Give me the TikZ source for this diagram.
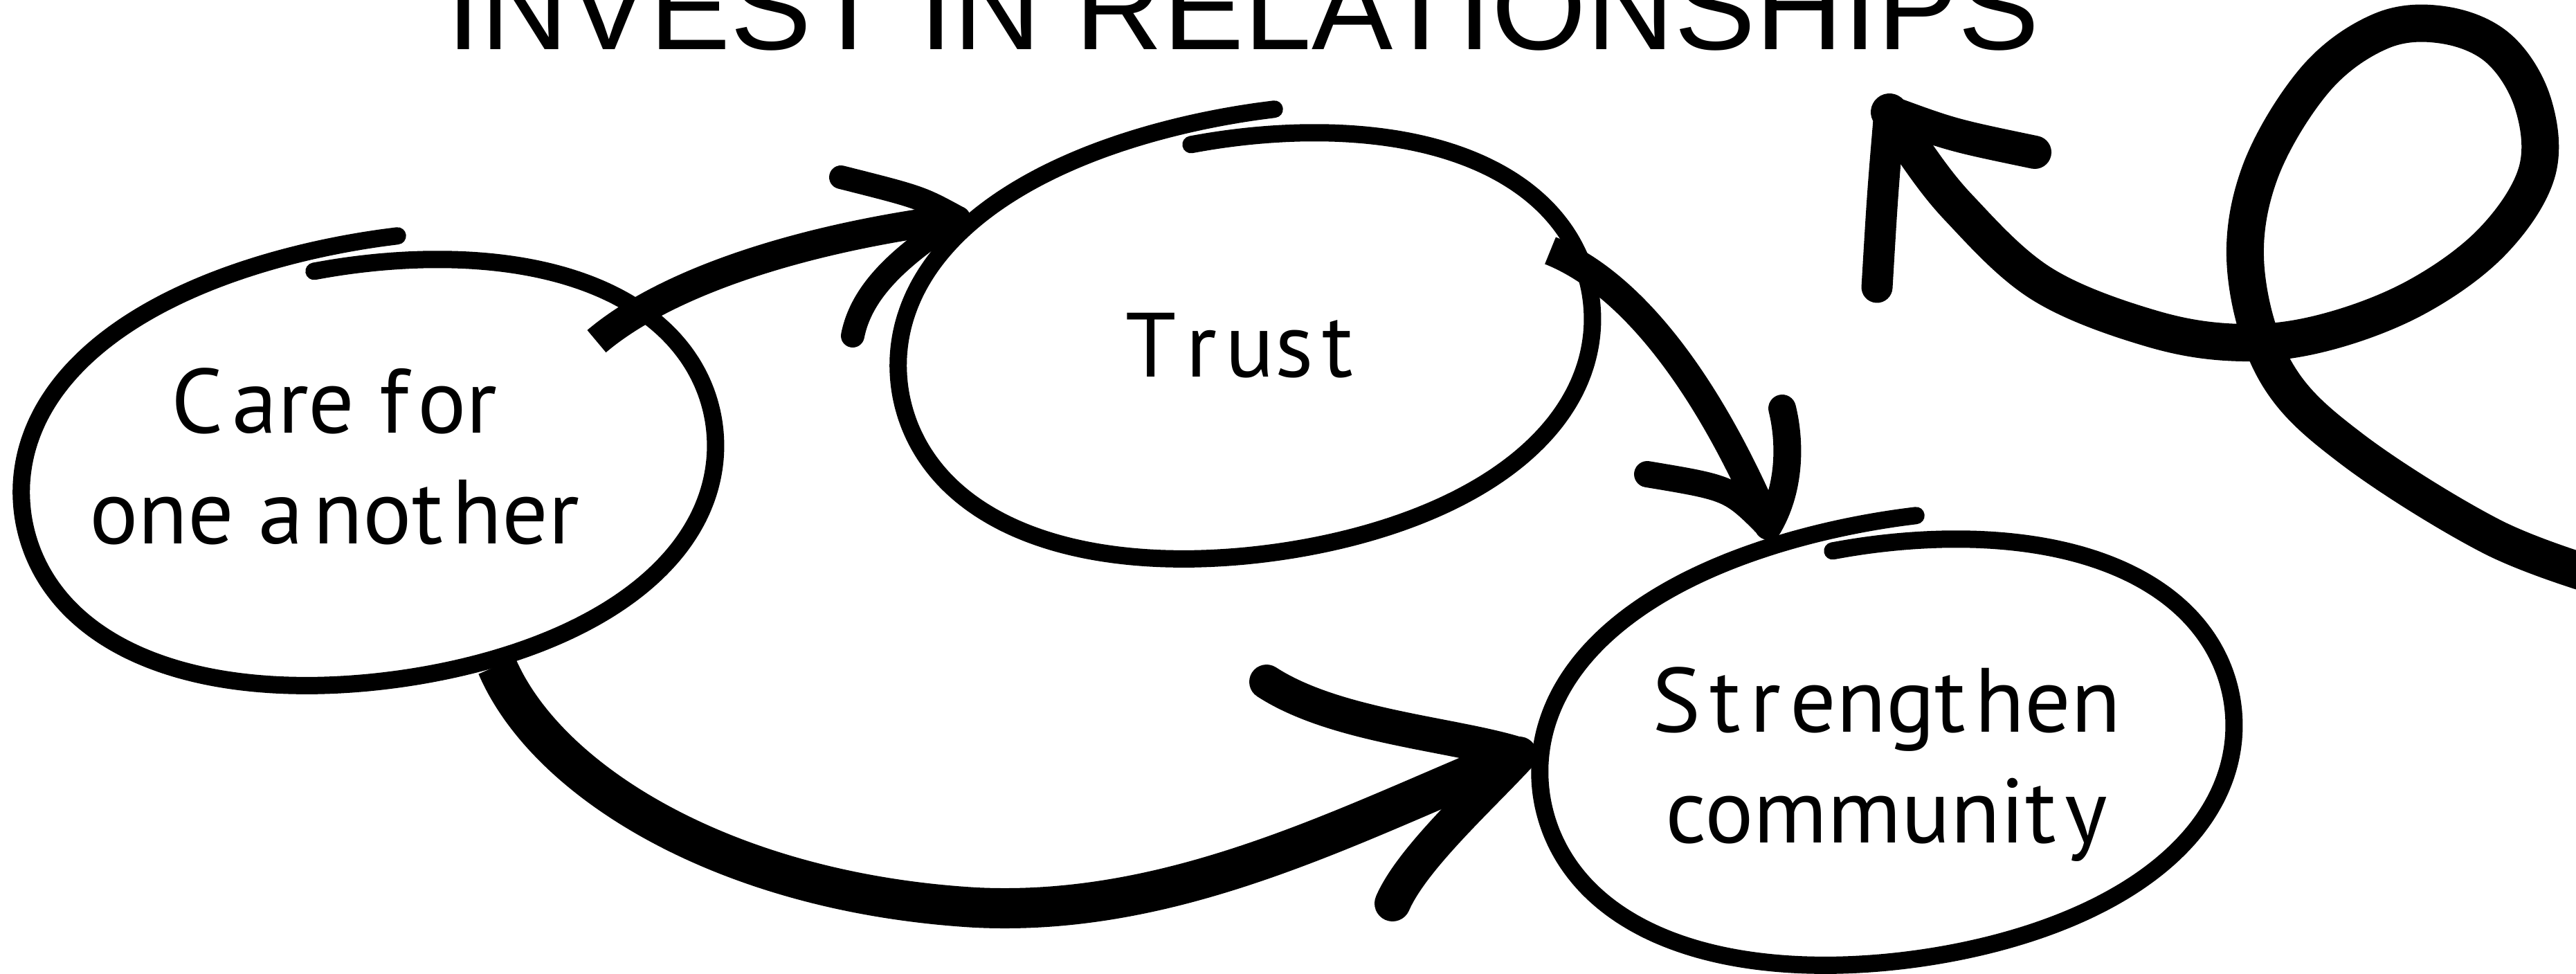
\documentclass[tikz,border=0pt]{standalone}
\usepackage{fontspec}
\usepackage{tikz}
\usetikzlibrary{positioning}
\newfontfamily\labelfont{PT Sans}
\newfontfamily\titlefont{Liberation Sans}
\tikzset{ring/.style = {line width = 0.25cm, line cap = round, line join = round}}
\tikzset{brush/.style = {line width = 0.42cm, line join = round}}
\tikzset{barb/.style = {line width = 0.34cm, line cap = round}}
\tikzset{lbl/.style = {font = \labelfont\fontsize{37.5}{45.5}\selectfont, align = center, inner sep = 0}}
\newcommand{\lgap}{\kern0.1em}
\newcommand{\sketchring}[1]{%
  \draw [ring, shift={(#1)}] plot [domain=0:1, samples=140, smooth, variable=\w]
    ({(1 - 0.01*(1-\w)^4 + 0.11*\w^6)*(1 + 0.012*(1 - cos(4*(95-374*\w))))*(5.0*cos(95-374*\w)*cos(8) - 3.02*sin(95-374*\w)*sin(8))},
     {(1 - 0.01*(1-\w)^4 + 0.11*\w^6)*(1 + 0.012*(1 - cos(4*(95-374*\w))))*(-5.0*cos(95-374*\w)*sin(8) - 3.02*sin(95-374*\w)*cos(8))});}

\begin{document}
\begin{tikzpicture}[x=1cm, y=-1cm]
    \fill [white] (0,0) rectangle (37.22,14.06);
    \clip (0,0) rectangle (37.22,14.06);

    \node [anchor=base, inner sep=0, font=\titlefont\fontsize{50}{52}\selectfont] (title) at (17.96,0.72) {INVEST IN RELATIONSHIPS};

    \coordinate (care-ring) at (5.38,6.81);
    \coordinate (trust-ring) at (18.05,4.98);
    \coordinate (comm-ring) at (27.32,10.85);
    \sketchring{care-ring}
    \sketchring{trust-ring}
    \sketchring{comm-ring}

    \node [lbl] (care) at (4.83,6.59) {C\lgap are f\lgap or\\one a\lgap not\lgap her};
    \node [lbl] (trust) at (17.91,4.99) {T\lgap r\lgap us\lgap t};
    \node [lbl] (comm) at (27.26,11.04) {S\lgap t\lgap r\lgap engt\lgap hen\\communit\lgap y};

    % care -> trust
    \coordinate (ct-tail) at (8.62,4.93);
    \coordinate (ct-tip) at (13.85,3.15);
    \draw [brush] (ct-tail) .. controls (9.6,4.1) and (11.5,3.45) .. (ct-tip);
    \draw [barb] (ct-tip) .. controls (13.3,2.85) .. (12.15,2.56);
    \draw [barb] (ct-tip) .. controls (13.0,3.7) and (12.45,4.2) .. (12.32,4.85);

    % care -> community
    \coordinate (cc-tail) at (7.18,9.62);
    \coordinate (cc-tip) at (21.95,10.9);
    \draw [brush, line width=0.58cm] (cc-tail) .. controls (7.9,11.3) and (10.5,12.9) .. (14.1,13.11)
      .. controls (17.0,13.25) and (19.5,11.9) .. (cc-tip);
    \draw [barb, line width=0.5cm] (cc-tip) .. controls (21.0,10.6) and (19.3,10.5) .. (18.3,9.85);
    \draw [barb, line width=0.52cm] (cc-tip) .. controls (21.4,11.5) and (20.4,12.4) .. (20.12,13.05);

    % trust -> community
    \coordinate (tc-tail) at (22.4,3.62);
    \coordinate (tc-tip) at (25.55,7.6);
    \draw [brush] (tc-tail) .. controls (23.6,4.1) and (24.7,5.6) .. (tc-tip);
    \draw [barb, line width=0.38cm] (tc-tip) .. controls (25.0,7.05) .. (23.8,6.85);
    \draw [barb, line width=0.4cm] (tc-tip) .. controls (25.9,7.0) and (25.85,6.3) .. (25.75,5.9);

    % loop
    \coordinate (loop-in) at (37.6,8.35);
    \coordinate (loop-tip) at (27.3,1.62);
    \draw [brush, line width=0.54cm, line cap=round] plot [smooth, tension=0.6] coordinates {
      (loop-in) (36.0,7.75) (34.0,6.5) (32.9,5.4) (32.45,3.9) (32.65,2.5) (33.45,1.15)
      (34.4,0.45) (35.3,0.36) (36.1,0.7) (36.6,1.5) (36.65,2.5) (36.0,3.5) (34.9,4.3)
      (33.6,4.8) (32.4,4.95) (31.1,4.75) (29.5,4.1) (28.3,3.0) (27.6,2.1) (loop-tip)};
    \draw [barb, line width=0.48cm] (loop-tip) .. controls (28.2,1.95) .. (29.4,2.2);
    \draw [barb, line width=0.45cm] (loop-tip) .. controls (27.2,2.8) .. (27.12,4.15);
\end{tikzpicture}
\end{document}
